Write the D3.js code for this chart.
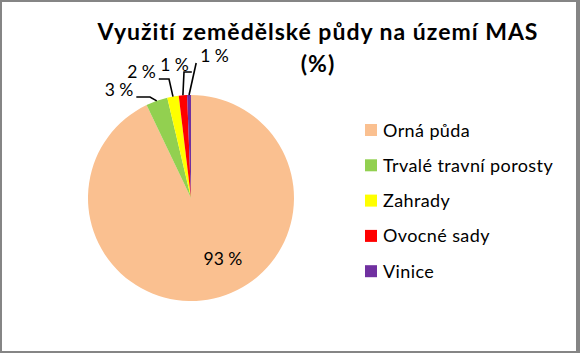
<!DOCTYPE html>
<html>
<head>
<meta charset="utf-8">
<script src="https://cdn.jsdelivr.net/npm/d3@7"></script>
<style>
  body { margin: 0; background: #fff; }
  svg { display: block; }
</style>
</head>
<body>
<div id="chart"></div>
<script>
// data
const categories = ["Orná půda", "Trvalé travní porosty", "Zahrady", "Ovocné sady", "Vinice"]
const shares = [92.9, 3.4, 1.8, 1.3, 0.6]
const colors = ["#fac090", "#92d050", "#ffff00", "#ff0000", "#7030a0"]
const titleLines = ["Využití zemědělské půdy na území MAS", "(%)"]

// label layout, relative to pie centre: [text x, baseline y, leader elbow x]
const labelLayout = [
    [32, 67, null],
    [-72, -102, -41],
    [-49.5, -120, -22],
    [-16.5, -127, -7],
    [23.5, -136, 6]
]

const width = 580, height = 353
const cx = 191, cy = 198, radius = 103
const font = "Lato, 'Open Sans', sans-serif"

const svg = d3.select("#chart").append("svg")
    .attr("width", width)
    .attr("height", height)

// frame
svg.append("rect").attr("width", width).attr("height", height).attr("fill", "#858585")
svg.append("rect").attr("x", 2).attr("y", 2)
    .attr("width", width - 6).attr("height", height - 4)
    .attr("fill", "#fff")

// title
svg.append("g")
    .attr("font-family", font)
    .attr("font-weight", "bold")
    .attr("font-size", "23px")
    .attr("letter-spacing", "1px")
    .attr("text-anchor", "middle")
    .selectAll("text")
    .data(titleLines)
    .join("text")
        .attr("x", 318)
        .attr("y", (d, i) => 40 + i * 32)
        .text(d => d)

const data = categories.map((c, i) => ({ name: c, value: shares[i], color: colors[i], layout: labelLayout[i] }))

const pie = d3.pie().sort(null).value(d => d.value)
const arcs = pie(data)
const arc = d3.arc().innerRadius(0).outerRadius(radius)

const g = svg.append("g").attr("transform", `translate(${cx},${cy})`)

g.selectAll("path")
    .data(arcs)
    .join("path")
        .attr("d", arc)
        .attr("fill", d => d.data.color)

// labels
const labels = g.append("g")
    .attr("font-family", font)
    .attr("font-size", "17.5px")
    .attr("text-anchor", "middle")
    .attr("fill", "#000")

labels.selectAll("text")
    .data(arcs)
    .join("text")
        .attr("x", d => d.data.layout[0])
        .attr("y", d => d.data.layout[1])
        .text(d => Math.round(d.data.value) + " %")

// leader lines for the small slices
const edgePoint = d => {
    const a = (d.startAngle + d.endAngle) / 2
    return [Math.sin(a) * radius, -Math.cos(a) * radius]
}

labels.selectAll("text").each(function(d) {
    if (d.data.layout[2] === null) return
    const box = this.getBBox()
    const p = edgePoint(d)
    const ly = d.data.layout[1] + 1
    let pts
    if (d.index === 4) {
        pts = [[box.x - 4, ly], p]
    } else {
        pts = [[box.x + box.width + 3, ly], [d.data.layout[2], ly], p]
    }
    g.append("path")
        .attr("d", d3.line()(pts))
        .attr("fill", "none")
        .attr("stroke", "#000")
        .attr("stroke-width", 1.6)
})

// legend
const legend = svg.append("g")
    .attr("font-family", font)
    .attr("font-size", "18px")
    .attr("letter-spacing", "0.4px")
    .selectAll("g")
    .data(data)
    .join("g")
        .attr("transform", (d, i) => `translate(365,${130 + i * 35.3})`)

legend.append("rect")
    .attr("y", -6)
    .attr("width", 12)
    .attr("height", 12)
    .attr("fill", d => d.color)

legend.append("text")
    .attr("x", 18)
    .attr("y", 6.5)
    .text(d => d.name)
</script>
</body>
</html>
